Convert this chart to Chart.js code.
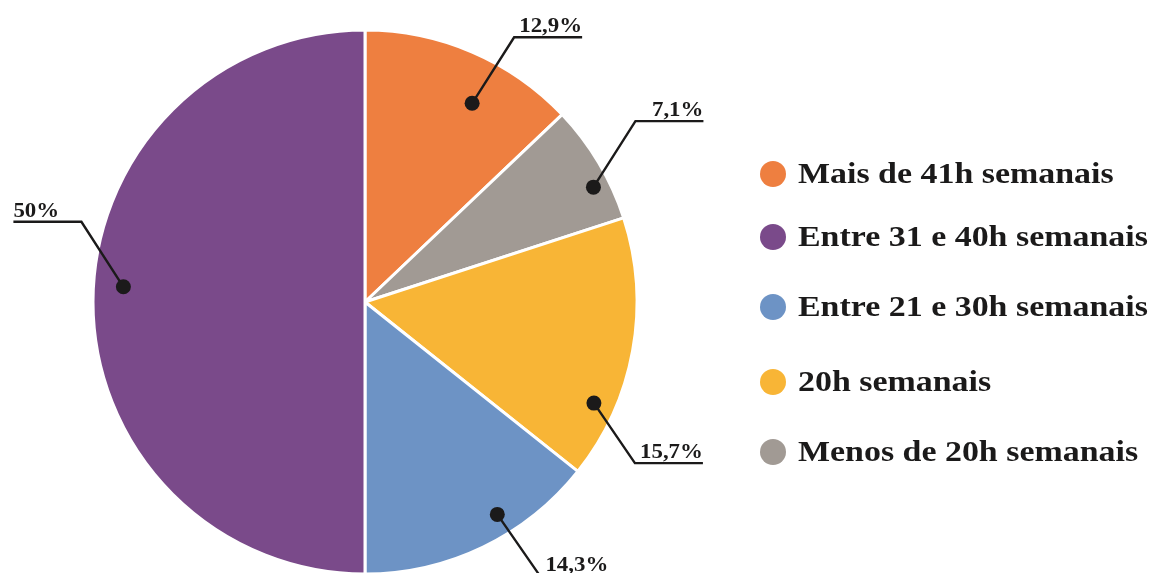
<!DOCTYPE html>
<html>
<head>
<meta charset="utf-8">
<script src="https://cdn.jsdelivr.net/npm/chart.js@4"></script>
<style>
  html, body { margin: 0; padding: 0; background: #fff; overflow: hidden; }
  #wrap { width: 1151px; height: 580px; }
</style>
</head>
<body>
<div id="wrap"><canvas id="c" width="1151" height="580"></canvas></div>
<script>
// Data (slices listed in clockwise drawing order from 12 o'clock)
const categories = [
  "Mais de 41h semanais",
  "Menos de 20h semanais",
  "20h semanais",
  "Entre 21 e 30h semanais",
  "Entre 31 e 40h semanais"
];
const values = [12.9, 7.1, 15.7, 14.3, 50];
const colors = ["#EE7F40", "#A19A94", "#F8B536", "#6D93C5", "#7A4A8A"];
// Legend order (indices into categories)
const legendOrder = [0, 4, 3, 2, 1];

// Label placement styling: fraction along slice angle, fraction of radius, elbow offset, underline direction
const labelLayout = [
  { af: 0.61, rf: 0.83, dx: 42, dy: -66, dir: 1 },
  { af: 0.66, rf: 0.94, dx: 42, dy: -66, dir: 1 },
  { af: 0.74, rf: 0.92, dx: 41, dy: 60, dir: 1 },
  { af: 0.38, rf: 0.92, dx: 43, dy: 62, dir: 1 },
  { af: 0.52, rf: 0.89, dx: -42, dy: -65, dir: -1 }
];
const legendRows = [174, 237, 307, 382, 452];

const fmt = v => String(v).replace('.', ',') + '%';
const INK = '#1b1a1a';
const SERIF = '"Liberation Serif", "DejaVu Serif", serif';

function stretchedText(ctx, text, x, y, sx, align) {
  ctx.save();
  const w = ctx.measureText(text).width * sx;
  let left = x;
  if (align === 'right') left = x - w;
  ctx.translate(left, y);
  ctx.scale(sx, 1);
  ctx.textAlign = 'left';
  ctx.fillText(text, 0, 0);
  ctx.restore();
}

const labelPlugin = {
  id: 'leaderLabels',
  afterDatasetsDraw(chart) {
    const ctx = chart.ctx;
    const meta = chart.getDatasetMeta(0);
    meta.data.forEach((arc, i) => {
      const p = arc.getProps(['x', 'y', 'startAngle', 'endAngle', 'outerRadius'], true);
      const L = labelLayout[i];
      const a = p.startAngle + L.af * (p.endAngle - p.startAngle);
      const r = p.outerRadius * L.rf;
      const dx = p.x + Math.cos(a) * r;
      const dy = p.y + Math.sin(a) * r;
      const ex = dx + L.dx, ey = dy + L.dy;
      const uw = 68;
      const ux = ex + L.dir * uw;
      ctx.save();
      ctx.strokeStyle = INK;
      ctx.lineWidth = 2.4;
      ctx.lineJoin = 'miter';
      ctx.beginPath();
      ctx.moveTo(dx, dy);
      ctx.lineTo(ex, ey);
      ctx.lineTo(ux, ey);
      ctx.stroke();
      ctx.fillStyle = INK;
      ctx.beginPath();
      ctx.arc(dx, dy, 7.5, 0, Math.PI * 2);
      ctx.fill();
      ctx.font = 'bold 22px ' + SERIF;
      ctx.textBaseline = 'alphabetic';
      stretchedText(ctx, fmt(values[i]), ux, ey - 5, 1.04, L.dir > 0 ? 'right' : 'left');
      ctx.restore();
    });
  }
};

const legendPlugin = {
  id: 'sideLegend',
  afterDraw(chart) {
    const ctx = chart.ctx;
    const x0 = 773;
    ctx.save();
    legendOrder.forEach((idx, k) => {
      const cy = legendRows[k];
      ctx.fillStyle = colors[idx];
      ctx.beginPath();
      ctx.arc(x0, cy, 13, 0, Math.PI * 2);
      ctx.fill();
      ctx.fillStyle = INK;
      ctx.font = 'bold 28.5px ' + SERIF;
      ctx.textBaseline = 'alphabetic';
      stretchedText(ctx, categories[idx], 798, cy + 9, 1.19, 'left');
    });
    ctx.restore();
  }
};

new Chart(document.getElementById('c'), {
  type: 'pie',
  data: {
    labels: categories,
    datasets: [{
      data: values,
      backgroundColor: colors,
      borderColor: '#ffffff',
      borderWidth: 3,
      hoverOffset: 0,
      offset: 0
    }]
  },
  options: {
    responsive: false,
    animation: false,
    events: [],
    devicePixelRatio: 1,
    layout: { padding: { left: 91.5, right: 512.5, top: 28.5, bottom: 4.5 } },
    plugins: {
      legend: { display: false },
      tooltip: { enabled: false }
    }
  },
  plugins: [labelPlugin, legendPlugin]
});
</script>
</body>
</html>
